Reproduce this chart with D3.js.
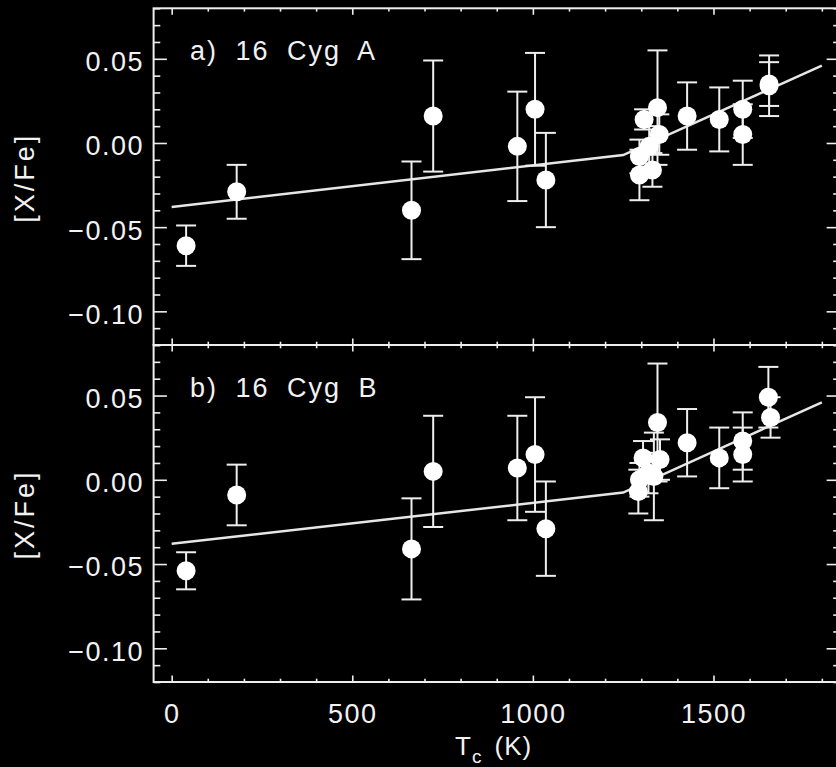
<!DOCTYPE html>
<html>
<head>
<meta charset="utf-8">
<script src="https://cdn.jsdelivr.net/npm/d3@7"></script>
<style>
  body { margin: 0; background: #000; }
  svg { display: block; background: #000; }
  text { font-family: "Liberation Sans", Arial, sans-serif; fill: #f2f2f2; }
</style>
</head>
<body>
<svg width="836" height="767"></svg>
<script>
// Data
const tcA  = [40, 180, 664, 724, 957, 1006, 1036, 1295, 1295, 1308, 1322, 1331, 1345, 1350, 1427, 1516, 1581, 1581, 1654, 1654];
const xfeA = [-0.061, -0.029, -0.040, 0.016, -0.002, 0.020, -0.022, -0.019, -0.008, 0.014, -0.002, -0.016, 0.021, 0.005, 0.016, 0.014, 0.020, 0.005, 0.034, 0.035];
const errA = [0.012, 0.016, 0.029, 0.033, 0.0325, 0.0335, 0.028, 0.015, 0.010, 0.006, 0.012, 0.010, 0.034, 0.012, 0.020, 0.019, 0.017, 0.018, 0.018, 0.013];

const tcB  = [40, 180, 664, 724, 957, 1006, 1036, 1292, 1295, 1305, 1320, 1335, 1345, 1352, 1427, 1516, 1581, 1581, 1652, 1658];
const xfeB = [-0.054, -0.009, -0.041, 0.005, 0.007, 0.015, -0.029, -0.007, 0.000, 0.013, 0.004, 0.002, 0.034, 0.012, 0.022, 0.013, 0.023, 0.015, 0.049, 0.037];
const errB = [0.011, 0.018, 0.030, 0.033, 0.031, 0.034, 0.028, 0.013, 0.010, 0.010, 0.012, 0.026, 0.035, 0.012, 0.020, 0.018, 0.017, 0.016, 0.018, 0.012];

// broken-line fit
const fitTc = [0, 1250, 1800];
const fitA  = [-0.038, -0.0072, 0.046];
const fitB  = [-0.038, -0.0076, 0.046];

const xMajor = [0, 500, 1000, 1500];
const yMajor = [0.05, 0.00, -0.05, -0.10];
const panelTitles = ["a) 16 Cyg A", "b) 16 Cyg B"];

let svg = d3.select("svg");

let left = 153.6, right = 839.9;
let x = d3.scaleLinear().domain([-50, 1850]).range([left, right]);

let panels = [
  {tc: tcA, xfe: xfeA, err: errA, fit: fitA, title: panelTitles[0], top: 8.3, bottom: 345},
  {tc: tcB, xfe: xfeB, err: errB, fit: fitB, title: panelTitles[1], top: 345, bottom: 682}
];

let xMinor = d3.range(0, 1900, 100).filter(d => d % 500 !== 0);
let yMinor = d3.range(-12, 9).map(d => d / 100).filter(d => Math.round(d * 100) % 5 !== 0);

const fmt = d => (d < 0 ? "\u2212" : "") + Math.abs(d).toFixed(2);

panels.forEach((p, i) => {
  let y = d3.scaleLinear().domain([-0.12, 0.08]).range([p.bottom, p.top]);
  let g = svg.append("g");

  // frame
  g.append("rect")
    .attr("x", left).attr("y", p.top)
    .attr("width", right - left).attr("height", p.bottom - p.top)
    .attr("fill", "none").attr("stroke", "#eee").attr("stroke-width", 2);

  // ticks: major + minor on all four sides
  let axes = [
    [d3.axisLeft(y).tickValues(yMajor).tickSize(-13.3), `translate(${left},0)`],
    [d3.axisLeft(y).tickValues(yMinor).tickSize(-6.7), `translate(${left},0)`],
    [d3.axisRight(y).tickValues(yMajor).tickSize(-13.3), `translate(${right},0)`],
    [d3.axisRight(y).tickValues(yMinor).tickSize(-6.7), `translate(${right},0)`],
    [d3.axisTop(x).tickValues(xMajor).tickSize(-6.5), `translate(0,${p.top})`],
    [d3.axisTop(x).tickValues(xMinor).tickSize(-3.3), `translate(0,${p.top})`],
    [d3.axisBottom(x).tickValues(xMajor).tickSize(-6.5), `translate(0,${p.bottom})`],
    [d3.axisBottom(x).tickValues(xMinor).tickSize(-3.3), `translate(0,${p.bottom})`]
  ];
  axes.forEach(a => {
    let ax = g.append("g").attr("transform", a[1])
      .call(a[0].tickFormat("").tickSizeOuter(0));
    ax.select(".domain").remove();
    ax.selectAll("line").attr("stroke", "#eee").attr("stroke-width", 1.6);
  });

  // y tick labels
  let yl = g.append("g").attr("transform", `translate(${left},0)`)
    .call(d3.axisLeft(y).tickValues(yMajor).tickSize(0).tickPadding(9.5).tickFormat(fmt));
  yl.select(".domain").remove();
  yl.selectAll("text")
    .attr("font-size", 27).attr("letter-spacing", 1.5)
    .attr("dy", "0.44em").style("font-family", "Liberation Sans").attr("fill", "#f2f2f2");

  // x tick labels only on lower panel
  if (i === 1) {
    let xl = g.append("g").attr("transform", `translate(0,${p.bottom})`)
      .call(d3.axisBottom(x).tickValues(xMajor).tickSize(0).tickPadding(22).tickFormat(d3.format("d")));
    xl.select(".domain").remove();
    xl.selectAll("text")
      .attr("font-size", 27).attr("letter-spacing", 1.5)
      .style("font-family", "Liberation Sans").attr("fill", "#f2f2f2");
  }

  // fit line
  let line = d3.line().x(d => x(d[0])).y(d => y(d[1]));
  g.append("path")
    .datum(fitTc.map((t, k) => [t, p.fit[k]]))
    .attr("d", line)
    .attr("fill", "none").attr("stroke", "#e6e6e6").attr("stroke-width", 2.5);

  let pts = p.tc.map((t, k) => ({t: t, v: p.xfe[k], e: p.err[k]}));

  // error bars
  let eb = g.append("g").attr("stroke", "#eee").attr("stroke-width", 2);
  eb.selectAll(".bar").data(pts).enter().append("line")
    .attr("x1", d => x(d.t)).attr("x2", d => x(d.t))
    .attr("y1", d => y(d.v - d.e)).attr("y2", d => y(d.v + d.e));
  eb.selectAll(".capt").data(pts).enter().append("line")
    .attr("x1", d => x(d.t) - 10).attr("x2", d => x(d.t) + 10)
    .attr("y1", d => y(d.v + d.e)).attr("y2", d => y(d.v + d.e));
  eb.selectAll(".capb").data(pts).enter().append("line")
    .attr("x1", d => x(d.t) - 10).attr("x2", d => x(d.t) + 10)
    .attr("y1", d => y(d.v - d.e)).attr("y2", d => y(d.v - d.e));

  // points
  g.selectAll("circle").data(pts).enter().append("circle")
    .attr("cx", d => x(d.t)).attr("cy", d => y(d.v))
    .attr("r", 9.5).attr("fill", "#fff");

  // panel title
  g.append("text")
    .attr("x", 190).attr("y", p.top + 52)
    .attr("font-size", 27).attr("letter-spacing", 2).attr("word-spacing", 8)
    .text(p.title);

  // y label
  g.append("text")
    .attr("transform", `translate(33.5,${(p.top + p.bottom) / 2 + 1}) rotate(-90)`)
    .attr("text-anchor", "middle")
    .attr("font-size", 27).attr("letter-spacing", 3)
    .text("[X/Fe]");
});

// x axis title
let xt = svg.append("text")
  .attr("x", 455).attr("y", 755)
  .attr("font-size", 26).attr("letter-spacing", 1);
xt.append("tspan").text("T");
xt.append("tspan").attr("font-size", 19).attr("dy", 8).text("c");
xt.append("tspan").attr("dy", -8).attr("dx", 4).text(" (K)");
</script>
</body>
</html>
